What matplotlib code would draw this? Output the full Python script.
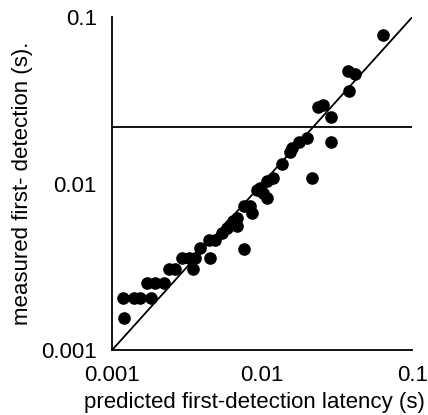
import matplotlib
matplotlib.use('Agg')
from matplotlib import pyplot as plt

# predicted vs measured first-detection latency (s)
predicted = [0.0638, 0.0376, 0.0417, 0.0380, 0.0237, 0.0254, 0.0286, 0.0199,
             0.0175, 0.0159, 0.0154, 0.0286, 0.0135, 0.0119, 0.0214, 0.0107,
             0.0097, 0.00923, 0.0107, 0.0102, 0.00752, 0.0083, 0.0085, 0.00678,
             0.00644, 0.00612, 0.0058, 0.00678, 0.00538, 0.00486, 0.00439,
             0.00386, 0.0045, 0.00759, 0.0029, 0.00323, 0.00357, 0.00348,
             0.00238, 0.00263, 0.0017, 0.00194, 0.0022, 0.00119, 0.00139,
             0.00154, 0.00181, 0.0012]
measured = [0.0785, 0.0472, 0.0453, 0.0362, 0.0287, 0.0297, 0.0252, 0.0189,
            0.0179, 0.0164, 0.0154, 0.0177, 0.0132, 0.0108, 0.0108, 0.0104,
            0.0094, 0.0092, 0.0082, 0.0088, 0.0073, 0.0073, 0.00667, 0.00621,
            0.00593, 0.00566, 0.0054, 0.00553, 0.00505, 0.0046, 0.0046,
            0.0041, 0.00356, 0.00406, 0.00356, 0.00356, 0.00356, 0.00306,
            0.00307, 0.00307, 0.00254, 0.00254, 0.00254, 0.00206, 0.00206,
            0.00206, 0.00206, 0.00155]
threshold = 0.0219
lims = [0.001, 0.1]
ticks = [0.001, 0.01, 0.1]
tick_labels = ['0.001', '0.01', '0.1']

plt.rcParams['font.family'] = ['Liberation Sans', 'DejaVu Sans']

fig = plt.figure(figsize=(4.28, 4.15), dpi=100)
ax = fig.add_axes([0.262, 0.1566, 0.701, 0.802])

ax.plot(lims, lims, color='black', lw=1.3)
ax.axhline(threshold, color='black', lw=1.3)
ax.scatter(predicted, measured, s=65, color='black', zorder=3)

ax.set_xscale('log')
ax.set_yscale('log')
ax.set_xlim(lims)
ax.set_ylim(lims)
ax.set_xticks(ticks)
ax.set_xticklabels(tick_labels)
ax.set_yticks(ticks)
ax.set_yticklabels(tick_labels)
ax.minorticks_off()
ax.tick_params(length=0, labelsize=16)
ax.tick_params(axis='y', pad=11)
ax.tick_params(axis='x', pad=11)

for s in ['top', 'right']:
    ax.spines[s].set_visible(False)
for s in ['left', 'bottom']:
    ax.spines[s].set_linewidth(1.3)

ax.set_xlabel('predicted first-detection latency (s)', fontsize=16, va='top')
ax.xaxis.set_label_coords(0.473, -0.126)
ax.set_ylabel('measured first- detection (s).', fontsize=16, labelpad=6)

fig.savefig('out.png')
